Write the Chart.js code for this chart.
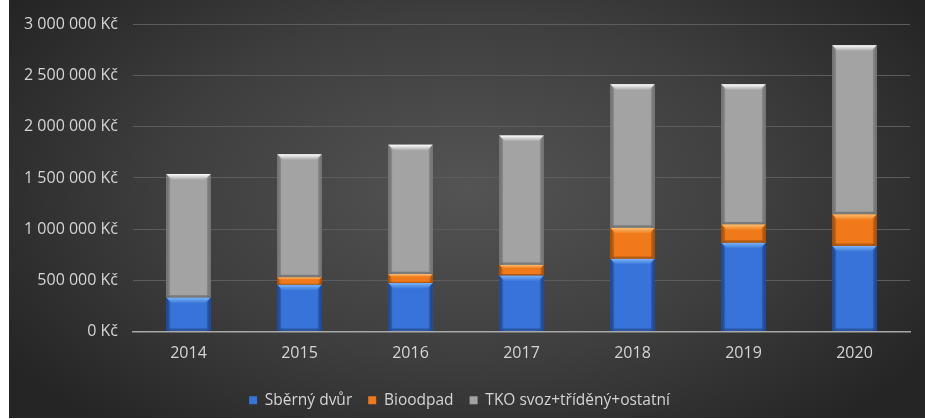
<!DOCTYPE html>
<html lang="cs">
<head>
  <meta charset="UTF-8" />
  <title>Náklady na odpady</title>
  <script src="https://cdn.jsdelivr.net/npm/chart.js"></script>
  <style>
    html, body {
      margin: 0;
      padding: 0;
      background: #fff;
    }

    .chart-box {
      position: absolute;
      left: 9px;
      top: 0;
      width: 916px;
      height: 418px;
      background: radial-gradient(ellipse 60% 75% at 50% 45%, #545454 0%, #3e3e3e 55%, #252525 100%);
    }
  </style>
</head>
<body>

  <div class="chart-box">
    <canvas id="wasteChart"></canvas>
  </div>

  <script>
    const years = ['2014', '2015', '2016', '2017', '2018', '2019', '2020'];
    const sbernyDvur = [330000, 456000, 473000, 547000, 709000, 867000, 835000];
    const bioodpad = [0, 73000, 87000, 103000, 304000, 179000, 311000];
    const tko = [1209000, 1204000, 1265000, 1266000, 1404000, 1371000, 1653000];
    const yTicks = [0, 500000, 1000000, 1500000, 2000000, 2500000, 3000000];

    const palette = [
      { base: '#3773d8', light: '#7ab4f8', dark: '#1f4a9a' },
      { base: '#f07a1a', light: '#ffc070', dark: '#b0550c' },
      { base: '#a3a3a3', light: '#ffffff', dark: '#7c7c7c' }
    ];

    function kc(v) {
      return String(v).replace(/\B(?=(\d{3})+(?!\d))/g, ' ') + ' Kč';
    }

    // paints the bevelled look over every bar segment
    const bevel = {
      id: 'bevel',
      afterDatasetsDraw(chart) {
        const ctx = chart.ctx;
        chart.data.datasets.forEach((ds, di) => {
          const c = palette[di];
          chart.getDatasetMeta(di).data.forEach(bar => {
            const p = bar.getProps(['x', 'y', 'base', 'width'], true);
            const l = p.x - p.width / 2, r = p.x + p.width / 2;
            const t = Math.min(p.y, p.base), b = Math.max(p.y, p.base);
            const h = b - t;
            if (h < 0.5) return;
            const e = Math.min(6, h / 3);

            ctx.save();
            const g = ctx.createLinearGradient(l, 0, r, 0);
            g.addColorStop(0, c.dark);
            g.addColorStop(0.1, c.base);
            g.addColorStop(0.9, c.base);
            g.addColorStop(1, c.dark);
            ctx.fillStyle = g;
            ctx.fillRect(l, t, r - l, h);

            // top bevel
            const gt = ctx.createLinearGradient(0, t, 0, t + e);
            gt.addColorStop(0, c.light);
            gt.addColorStop(1, c.base);
            ctx.fillStyle = gt;
            ctx.beginPath();
            ctx.moveTo(l, t); ctx.lineTo(r, t);
            ctx.lineTo(r - e, t + e); ctx.lineTo(l + e, t + e);
            ctx.closePath(); ctx.fill();

            // side bevels
            ctx.fillStyle = 'rgba(0,0,0,0.12)';
            ctx.beginPath();
            ctx.moveTo(l, t); ctx.lineTo(l + e * 0.6, t + e);
            ctx.lineTo(l + e * 0.6, b - e * 0.4); ctx.lineTo(l, b);
            ctx.closePath(); ctx.fill();
            ctx.beginPath();
            ctx.moveTo(r, t); ctx.lineTo(r - e * 0.6, t + e);
            ctx.lineTo(r - e * 0.6, b - e * 0.4); ctx.lineTo(r, b);
            ctx.closePath(); ctx.fill();

            // bottom bevel
            ctx.fillStyle = 'rgba(0,0,0,0.25)';
            ctx.beginPath();
            ctx.moveTo(l, b); ctx.lineTo(r, b);
            ctx.lineTo(r - e * 0.6, b - e * 0.4); ctx.lineTo(l + e * 0.6, b - e * 0.4);
            ctx.closePath(); ctx.fill();
            ctx.restore();
          });
        });
      }
    };

    const font = { family: "'Open Sans', sans-serif", size: 16 };

    new Chart(document.getElementById('wasteChart'), {
      type: 'bar',
      data: {
        labels: years,
        datasets: [
          { label: 'Sběrný dvůr', data: sbernyDvur, backgroundColor: palette[0].base },
          { label: 'Bioodpad', data: bioodpad, backgroundColor: palette[1].base },
          { label: 'TKO svoz+tříděný+ostatní', data: tko, backgroundColor: palette[2].base }
        ]
      },
      options: {
        responsive: true,
        maintainAspectRatio: false,
        animation: false,
        barPercentage: 0.4,
        categoryPercentage: 1,
        layout: { padding: { top: 24, right: 15, left: 0, bottom: 0 } },
        plugins: {
          legend: {
            position: 'bottom',
            labels: {
              color: '#d4d4d4',
              font: { family: "'Open Sans', sans-serif", size: 15.5 },
              boxWidth: 8,
              boxHeight: 8,
              padding: 16,
              generateLabels(chart) {
                return chart.data.datasets.map((ds, i) => ({
                  text: ds.label,
                  fillStyle: palette[i].base,
                  strokeStyle: palette[i].light,
                  lineWidth: 0,
                  fontColor: '#d4d4d4',
                  datasetIndex: i
                }));
              }
            }
          },
          tooltip: { enabled: false }
        },
        scales: {
          x: {
            stacked: true,
            grid: { display: false, drawTicks: false },
            border: { color: '#a8a8a8', width: 1.5 },
            ticks: { color: '#d4d4d4', font: font, padding: 13 }
          },
          y: {
            stacked: true,
            min: 0,
            max: 3000000,
            afterFit(scale) { scale.width = 124; },
            afterBuildTicks(scale) { scale.ticks = yTicks.map(v => ({ value: v })); },
            grid: { color: '#5c5c5c', lineWidth: 1, drawTicks: false },
            border: { display: false },
            ticks: { color: '#d4d4d4', font: font, padding: 15, callback: v => kc(v) }
          }
        }
      },
      plugins: [bevel]
    });
  </script>

</body>
</html>
